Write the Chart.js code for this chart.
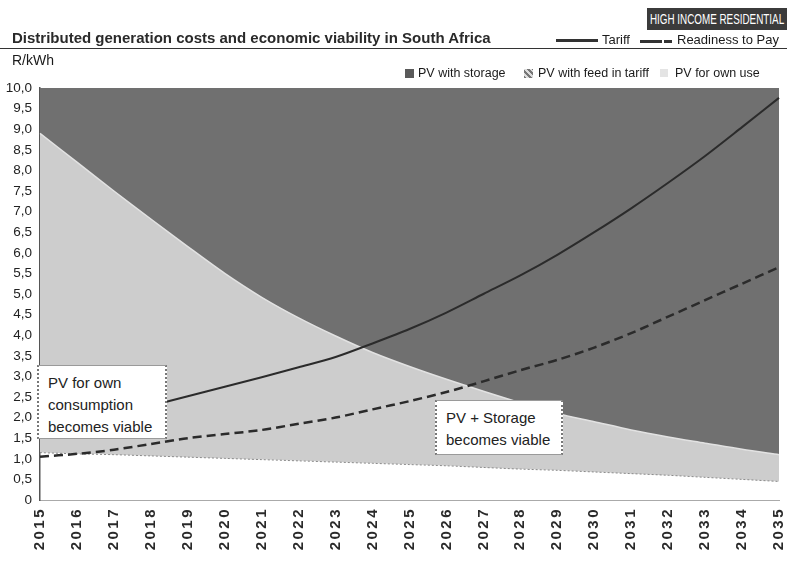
<!DOCTYPE html>
<html>
<head>
<meta charset="utf-8">
<script src="https://cdn.jsdelivr.net/npm/chart.js@4.4.1/dist/chart.umd.min.js"></script>
<style>
  html, body { margin: 0; padding: 0; background: #fff; }
  #wrap { position: relative; width: 787px; height: 562px; overflow: hidden; font-family: "Liberation Sans", Arial, sans-serif; color: #1a1a1a; }
  #chart { position: absolute; left: 0; top: 0; }
  .abs { position: absolute; white-space: nowrap; }
  #title { left: 12px; top: 29px; font-size: 15px; font-weight: bold; color: #2a2a2a; }
  #rule { left: 0; top: 48px; width: 787px; height: 0; border-top: 1.5px solid #333; }
  #badge { left: 647px; top: 8px; width: 140px; height: 22px; background: #3b3b3b; color: #fff; font-size: 14.5px; line-height: 22px; }
  #badge span { position: absolute; left: 50%; top: 0; white-space: nowrap; transform: translateX(-50%) scaleX(0.68); }
  #unit { left: 12px; top: 52px; font-size: 14px; }
  .leg { font-size: 13px; }
  .leg2 { font-size: 12.5px; }
  .sw { position: absolute; }
  .box { position: absolute; background: #fff; border: 1px solid #9a9a9a; border-left: 2px dotted #777; border-right: 2px dotted #777; font-size: 15px; line-height: 22px; padding: 6px 0 0 9px; box-sizing: border-box; color: #222; }
</style>
</head>
<body>
<div id="wrap">
  <canvas id="chart" width="787" height="562"></canvas>
  <div class="abs" id="title">Distributed generation costs and economic viability in South Africa</div>
  <div class="abs" id="rule"></div>
  <div class="abs" id="badge"><span>HIGH INCOME RESIDENTIAL</span></div>
  <div class="abs" id="unit">R/kWh</div>

  <div class="sw" style="left:556px;top:39px;width:42px;height:3px;background:#333;"></div>
  <div class="abs leg" style="left:602px;top:32px;">Tariff</div>
  <div class="sw" style="left:640px;top:40px;width:22px;height:2.5px;background:#333;"></div>
  <div class="sw" style="left:664px;top:40px;width:8px;height:2.5px;background:#333;"></div>
  <div class="abs leg" style="left:677px;top:32px;">Readiness to Pay</div>

  <div class="sw" style="left:405px;top:69px;width:9px;height:9px;background:#5a5a5a;"></div>
  <div class="abs leg2" style="left:418px;top:66px;">PV with storage</div>
  <div class="sw" style="left:524px;top:69px;width:9px;height:9px;background:repeating-linear-gradient(45deg,#777 0 2px,#ddd 2px 4px);"></div>
  <div class="abs leg2" style="left:538px;top:66px;">PV with feed in tariff</div>
  <div class="sw" style="left:660px;top:69px;width:8px;height:8px;background:#e4e4e4;"></div>
  <div class="abs leg2" style="left:675px;top:66px;">PV for own use</div>

  <div class="box" style="left:37px;top:365px;width:130px;height:74px;">PV for own<br>consumption<br>becomes viable</div>
  <div class="box" style="left:435px;top:400px;width:128px;height:55px;">PV + Storage<br>becomes viable</div>
</div>
<script>
const years = ['2015','2016','2017','2018','2019','2020','2021','2022','2023','2024','2025',
  '2026','2027','2028','2029','2030','2031','2032','2033','2034','2035'];

// R/kWh
const tariff = [1.65, 1.82, 2.03, 2.28, 2.52, 2.75, 2.98, 3.22, 3.47, 3.80, 4.15,
  4.55, 5.00, 5.45, 5.95, 6.50, 7.08, 7.70, 8.35, 9.05, 9.76];
const readiness = [1.05, 1.12, 1.22, 1.36, 1.50, 1.60, 1.70, 1.85, 2.00, 2.20, 2.40,
  2.62, 2.88, 3.15, 3.40, 3.70, 4.05, 4.45, 4.85, 5.25, 5.65];
const pvStorage = [8.90, 8.20, 7.50, 6.82, 6.15, 5.50, 4.92, 4.42, 3.98, 3.58, 3.24,
  2.93, 2.64, 2.36, 2.10, 1.90, 1.70, 1.53, 1.38, 1.23, 1.10];
const pvOwnUse = [1.15, 1.12, 1.10, 1.07, 1.04, 1.01, 0.98, 0.95, 0.92, 0.89, 0.86,
  0.83, 0.79, 0.75, 0.72, 0.68, 0.64, 0.60, 0.55, 0.50, 0.45];
const yTicks = [0, 0.5, 1, 1.5, 2, 2.5, 3, 3.5, 4, 4.5, 5, 5.5, 6, 6.5, 7, 7.5, 8, 8.5, 9, 9.5, 10];

const ctx = document.getElementById('chart');
const chart = new Chart(ctx, {
  type: 'line',
  data: {
    labels: years,
    datasets: [
      { label: 'Tariff', data: tariff, borderColor: '#2b2b2b', borderWidth: 2, pointRadius: 0, tension: 0.3, fill: false },
      { label: 'Readiness to Pay', data: readiness, borderColor: '#2b2b2b', borderWidth: 2.5, borderDash: [9, 5], pointRadius: 0, tension: 0.3, fill: false },
      { label: 'PV with storage', data: pvStorage, borderColor: '#e2e2e2', borderWidth: 1.5, backgroundColor: '#707070', pointRadius: 0, tension: 0.3, fill: 'end' },
      { label: 'PV with feed in tariff', data: pvOwnUse, borderColor: '#8a8a8a', borderWidth: 1, borderDash: [2, 2], backgroundColor: '#cdcdcd', pointRadius: 0, tension: 0.3, fill: 2 },
    ],
  },
  options: {
    responsive: false,
    animation: false,
    devicePixelRatio: 1,
    layout: { padding: { top: 88, right: 8, left: 0, bottom: 0 } },
    plugins: { legend: { display: false }, tooltip: { enabled: false } },
    scales: {
      x: {
        grid: { display: false, drawTicks: false },
        border: { display: true, color: '#aaa', width: 1, dash: [2, 2] },
        ticks: { color: '#2a2a2a', minRotation: 90, maxRotation: 90, autoSkip: false, padding: 7,
          font: { family: 'Liberation Sans', size: 15, weight: 'bold' } },
        afterFit: s => { s.height = 62; s.paddingLeft = 0; s.paddingRight = 0; },
      },
      y: {
        min: 0, max: 10,
        afterBuildTicks: s => { s.ticks = yTicks.map(v => ({ value: v })); },
        grid: { display: false, drawTicks: false },
        border: { display: true, color: '#555', width: 1.5 },
        ticks: { color: '#222', padding: 8, font: { family: 'Liberation Sans', size: 13.5 },
          callback: v => (v === 0 ? '0' : v.toFixed(1).replace('.', ',')) },
        afterFit: s => { s.width = 40; },
      },
    },
  },
});

// the scanned year labels are spaced out; widen only the x labels
const xs = chart.scales.x;
const drawXLabels = xs.drawLabels;
xs.drawLabels = function (area) {
  this.ctx.save();
  this.ctx.letterSpacing = '2.5px';
  drawXLabels.call(this, area);
  this.ctx.restore();
};
chart.draw();
</script>
</body>
</html>
